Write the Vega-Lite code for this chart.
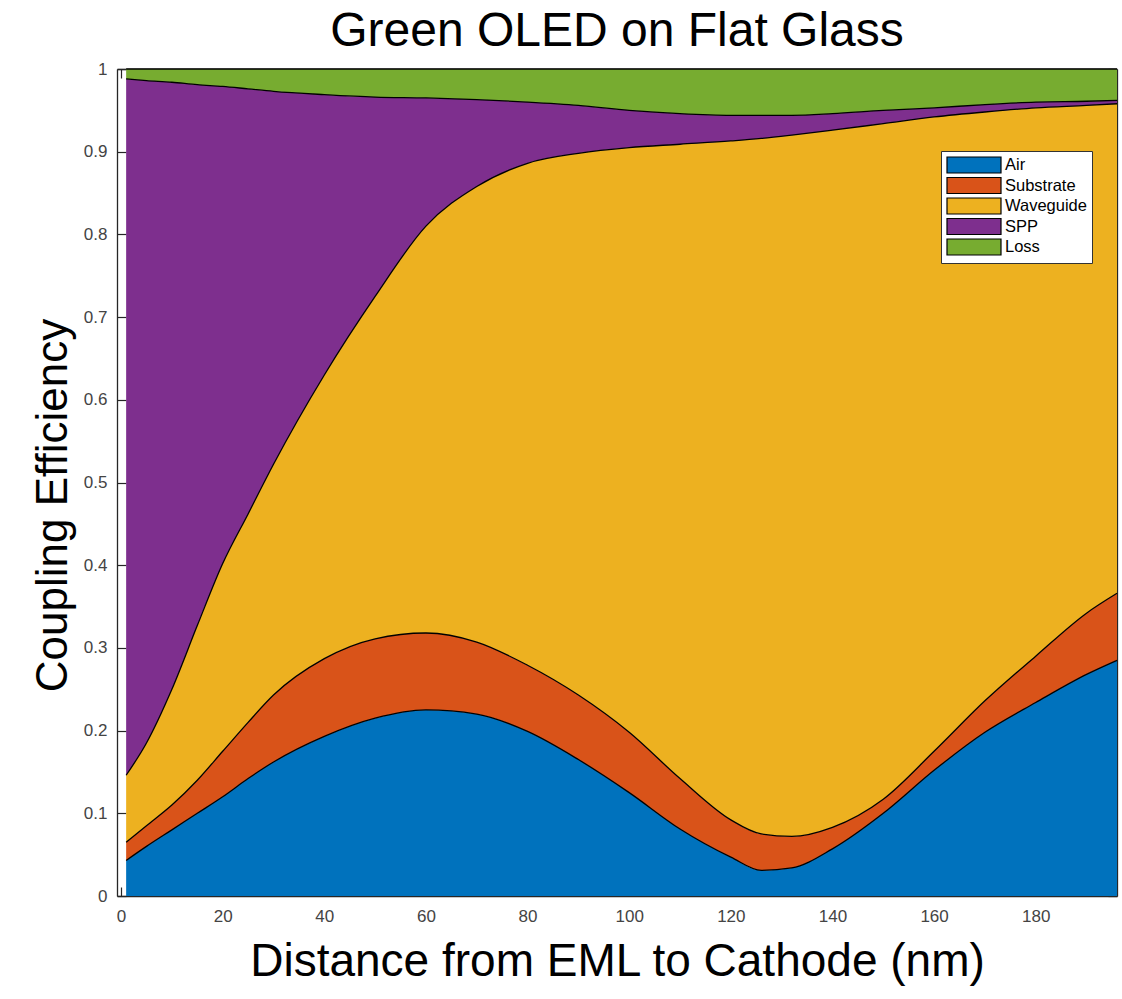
{
  "$schema": "https://vega.github.io/schema/vega-lite/v6.json",
  "width": 1000,
  "height": 827,
  "autosize": "none",
  "padding": {"left": 117, "top": 69, "right": 5, "bottom": 103},
  "background": "white",
  "config": {
    "font": "Liberation Sans",
    "view": {"stroke": null},
    "axis": {
      "domainColor": "#262626",
      "tickColor": "#262626",
      "domainWidth": 1.3,
      "tickWidth": 1.2,
      "grid": false,
      "labelFont": "Liberation Sans",
      "labelFontSize": 17,
      "labelColor": "#444444",
      "titleFont": "Liberation Sans",
      "titleFontWeight": "normal",
      "titleColor": "#000000",
      "zindex": 1
    }
  },
  "title": {
    "text": "Green OLED on Flat Glass",
    "fontSize": 48,
    "fontWeight": "normal",
    "color": "#000000",
    "font": "Liberation Sans",
    "anchor": "middle",
    "offset": 4
  },
  "data": {
    "values": [
      {"x": 1, "s": "Air", "v": 0.043}, {"x": 1, "s": "Substrate", "v": 0.022}, {"x": 1, "s": "Waveguide", "v": 0.081}, {"x": 1, "s": "SPP", "v": 0.842}, {"x": 1, "s": "Loss", "v": 0.012},
      {"x": 5, "s": "Air", "v": 0.060}, {"x": 5, "s": "Substrate", "v": 0.025}, {"x": 5, "s": "Waveguide", "v": 0.100}, {"x": 5, "s": "SPP", "v": 0.801}, {"x": 5, "s": "Loss", "v": 0.014},
      {"x": 10, "s": "Air", "v": 0.080}, {"x": 10, "s": "Substrate", "v": 0.030}, {"x": 10, "s": "Waveguide", "v": 0.140}, {"x": 10, "s": "SPP", "v": 0.734}, {"x": 10, "s": "Loss", "v": 0.016},
      {"x": 15, "s": "Air", "v": 0.100}, {"x": 15, "s": "Substrate", "v": 0.040}, {"x": 15, "s": "Waveguide", "v": 0.187}, {"x": 15, "s": "SPP", "v": 0.654}, {"x": 15, "s": "Loss", "v": 0.019},
      {"x": 20, "s": "Air", "v": 0.120}, {"x": 20, "s": "Substrate", "v": 0.055}, {"x": 20, "s": "Waveguide", "v": 0.227}, {"x": 20, "s": "SPP", "v": 0.577}, {"x": 20, "s": "Loss", "v": 0.021},
      {"x": 25, "s": "Air", "v": 0.142}, {"x": 25, "s": "Substrate", "v": 0.068}, {"x": 25, "s": "Waveguide", "v": 0.252}, {"x": 25, "s": "SPP", "v": 0.514}, {"x": 25, "s": "Loss", "v": 0.024},
      {"x": 30, "s": "Air", "v": 0.162}, {"x": 30, "s": "Substrate", "v": 0.081}, {"x": 30, "s": "Waveguide", "v": 0.279}, {"x": 30, "s": "SPP", "v": 0.451}, {"x": 30, "s": "Loss", "v": 0.027},
      {"x": 40, "s": "Air", "v": 0.193}, {"x": 40, "s": "Substrate", "v": 0.094}, {"x": 40, "s": "Waveguide", "v": 0.343}, {"x": 40, "s": "SPP", "v": 0.339}, {"x": 40, "s": "Loss", "v": 0.031},
      {"x": 50, "s": "Air", "v": 0.215}, {"x": 50, "s": "Substrate", "v": 0.096}, {"x": 50, "s": "Waveguide", "v": 0.414}, {"x": 50, "s": "SPP", "v": 0.241}, {"x": 50, "s": "Loss", "v": 0.034},
      {"x": 60, "s": "Air", "v": 0.225}, {"x": 60, "s": "Substrate", "v": 0.093}, {"x": 60, "s": "Waveguide", "v": 0.492}, {"x": 60, "s": "SPP", "v": 0.155}, {"x": 60, "s": "Loss", "v": 0.035},
      {"x": 70, "s": "Air", "v": 0.220}, {"x": 70, "s": "Substrate", "v": 0.087}, {"x": 70, "s": "Waveguide", "v": 0.551}, {"x": 70, "s": "SPP", "v": 0.105}, {"x": 70, "s": "Loss", "v": 0.037},
      {"x": 80, "s": "Air", "v": 0.199}, {"x": 80, "s": "Substrate", "v": 0.080}, {"x": 80, "s": "Waveguide", "v": 0.607}, {"x": 80, "s": "SPP", "v": 0.074}, {"x": 80, "s": "Loss", "v": 0.040},
      {"x": 90, "s": "Air", "v": 0.165}, {"x": 90, "s": "Substrate", "v": 0.078}, {"x": 90, "s": "Waveguide", "v": 0.655}, {"x": 90, "s": "SPP", "v": 0.058}, {"x": 90, "s": "Loss", "v": 0.044},
      {"x": 100, "s": "Air", "v": 0.125}, {"x": 100, "s": "Substrate", "v": 0.073}, {"x": 100, "s": "Waveguide", "v": 0.707}, {"x": 100, "s": "SPP", "v": 0.045}, {"x": 100, "s": "Loss", "v": 0.050},
      {"x": 110, "s": "Air", "v": 0.081}, {"x": 110, "s": "Substrate", "v": 0.061}, {"x": 110, "s": "Waveguide", "v": 0.767}, {"x": 110, "s": "SPP", "v": 0.037}, {"x": 110, "s": "Loss", "v": 0.054},
      {"x": 120, "s": "Air", "v": 0.047}, {"x": 120, "s": "Substrate", "v": 0.045}, {"x": 120, "s": "Waveguide", "v": 0.821}, {"x": 120, "s": "SPP", "v": 0.031}, {"x": 120, "s": "Loss", "v": 0.056},
      {"x": 126, "s": "Air", "v": 0.031}, {"x": 126, "s": "Substrate", "v": 0.044}, {"x": 126, "s": "Waveguide", "v": 0.841}, {"x": 126, "s": "SPP", "v": 0.028}, {"x": 126, "s": "Loss", "v": 0.056},
      {"x": 132, "s": "Air", "v": 0.034}, {"x": 132, "s": "Substrate", "v": 0.038}, {"x": 132, "s": "Waveguide", "v": 0.848}, {"x": 132, "s": "SPP", "v": 0.024}, {"x": 132, "s": "Loss", "v": 0.056},
      {"x": 140, "s": "Air", "v": 0.057}, {"x": 140, "s": "Substrate", "v": 0.026}, {"x": 140, "s": "Waveguide", "v": 0.843}, {"x": 140, "s": "SPP", "v": 0.020}, {"x": 140, "s": "Loss", "v": 0.054},
      {"x": 150, "s": "Air", "v": 0.100}, {"x": 150, "s": "Substrate", "v": 0.017}, {"x": 150, "s": "Waveguide", "v": 0.817}, {"x": 150, "s": "SPP", "v": 0.016}, {"x": 150, "s": "Loss", "v": 0.050},
      {"x": 160, "s": "Air", "v": 0.152}, {"x": 160, "s": "Substrate", "v": 0.023}, {"x": 160, "s": "Waveguide", "v": 0.767}, {"x": 160, "s": "SPP", "v": 0.011}, {"x": 160, "s": "Loss", "v": 0.047},
      {"x": 170, "s": "Air", "v": 0.198}, {"x": 170, "s": "Substrate", "v": 0.038}, {"x": 170, "s": "Waveguide", "v": 0.712}, {"x": 170, "s": "SPP", "v": 0.009}, {"x": 170, "s": "Loss", "v": 0.043},
      {"x": 180, "s": "Air", "v": 0.234}, {"x": 180, "s": "Substrate", "v": 0.056}, {"x": 180, "s": "Waveguide", "v": 0.663}, {"x": 180, "s": "SPP", "v": 0.007}, {"x": 180, "s": "Loss", "v": 0.040},
      {"x": 190, "s": "Air", "v": 0.268}, {"x": 190, "s": "Substrate", "v": 0.074}, {"x": 190, "s": "Waveguide", "v": 0.614}, {"x": 190, "s": "SPP", "v": 0.005}, {"x": 190, "s": "Loss", "v": 0.039},
      {"x": 196, "s": "Air", "v": 0.285}, {"x": 196, "s": "Substrate", "v": 0.081}, {"x": 196, "s": "Waveguide", "v": 0.592}, {"x": 196, "s": "SPP", "v": 0.004}, {"x": 196, "s": "Loss", "v": 0.038}
    ]
  },
  "transform": [
    {"calculate": "indexof(['Air','Substrate','Waveguide','SPP','Loss'], datum.s)", "as": "ord"},
    {"calculate": "4 - datum.ord", "as": "rk"}
  ],
  "layer": [
    {
      "mark": {"type": "area", "interpolate": "monotone", "opacity": 1},
      "encoding": {
        "x": {
          "field": "x", "type": "quantitative",
          "scale": {"domain": [-0.8, 196], "nice": false, "zero": false},
          "axis": {
            "orient": "bottom",
            "values": [0, 20, 40, 60, 80, 100, 120, 140, 160, 180],
            "tickSize": -9,
            "labelPadding": 21,
            "labelFontSize": 17,
            "labelColor": "#444444",
            "title": "Distance from EML to Cathode (nm)",
            "titleFontSize": 46,
            "titlePadding": 15
          }
        },
        "y": {
          "field": "v", "type": "quantitative", "stack": "zero",
          "scale": {"domain": [0, 1], "nice": false},
          "axis": {
            "orient": "left",
            "values": [0, 0.1, 0.2, 0.3, 0.4, 0.5, 0.6, 0.7, 0.8, 0.9, 1],
            "format": ".1~f",
            "tickSize": -9,
            "labelPadding": 19,
            "labelFontSize": 17,
            "labelColor": "#444444",
            "title": "Coupling Efficiency",
            "titleFontSize": 44,
            "titlePadding": 8,
            "titleY": 436
          }
        },
        "color": {
          "field": "s", "type": "nominal",
          "scale": {
            "domain": ["Air", "Substrate", "Waveguide", "SPP", "Loss"],
            "range": ["#0072BD", "#D95319", "#EDB120", "#7E2F8E", "#77AC30"]
          },
          "legend": {
            "title": null,
            "orient": "none",
            "legendX": 824,
            "legendY": 82,
            "padding": 5,
            "strokeColor": "#333333",
            "fillColor": "#ffffff",
            "symbolType": "M -1 -1 L 5.75 -1 L 5.75 1 L -1 1 Z",
            "symbolSize": 256,
            "symbolStrokeColor": "#000000",
            "symbolStrokeWidth": 1.2,
            "symbolOpacity": 1,
            "labelOffset": 41,
            "labelFontSize": 16.5,
            "labelColor": "#000000",
            "labelFont": "Liberation Sans",
            "rowPadding": -1.5
          }
        },
        "order": {"field": "ord", "type": "quantitative"}
      }
    },
    {
      "mark": {"type": "line", "interpolate": "monotone", "color": "#000000", "strokeWidth": 1.3},
      "encoding": {
        "x": {"field": "x", "type": "quantitative", "scale": {"domain": [-0.8, 196], "nice": false, "zero": false}, "axis": null},
        "y": {"field": "v", "type": "quantitative", "stack": "zero", "scale": {"domain": [0, 1], "nice": false}, "axis": null},
        "detail": {"field": "rk", "type": "quantitative"}
      }
    },
    {
      "mark": {"type": "point", "opacity": 0},
      "encoding": {
        "x": {
          "field": "x", "type": "quantitative",
          "scale": {"domain": [-0.8, 196], "nice": false, "zero": false},
          "axis": {"orient": "top", "values": [0, 20, 40, 60, 80, 100, 120, 140, 160, 180], "tickSize": -9, "labels": false, "title": null}
        },
        "y": {
          "field": "v", "type": "quantitative",
          "scale": {"domain": [0, 1], "nice": false},
          "axis": {"orient": "right", "values": [0, 0.1, 0.2, 0.3, 0.4, 0.5, 0.6, 0.7, 0.8, 0.9, 1], "tickSize": -9, "labels": false, "title": null}
        }
      }
    }
  ],
  "resolve": {"axis": {"x": "independent", "y": "independent"}}
}
